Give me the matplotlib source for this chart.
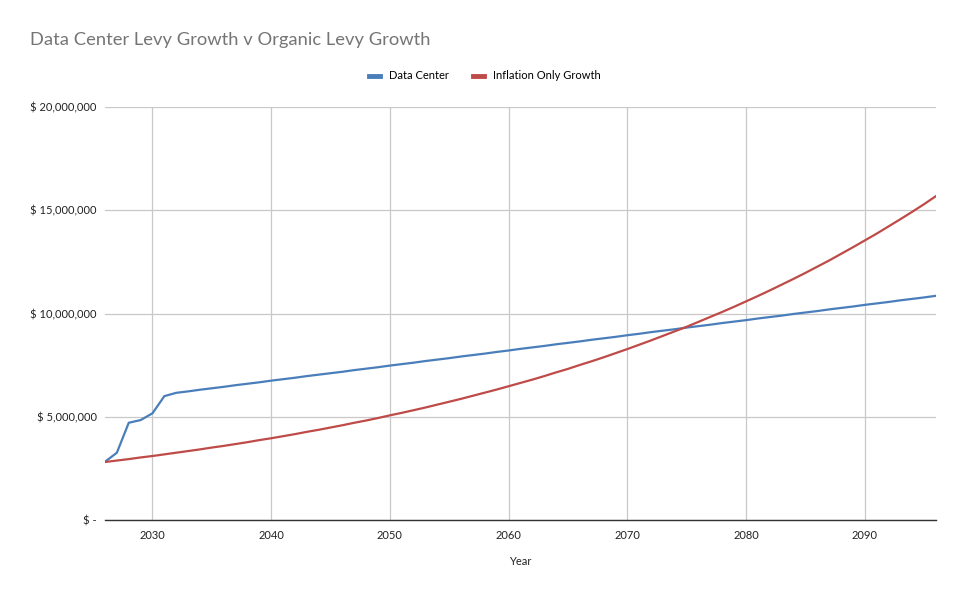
import numpy as np
import matplotlib
matplotlib.use("Agg")
import matplotlib.pyplot as plt
from matplotlib.ticker import FuncFormatter

plt.rcParams['font.family'] = ['Lato', 'DejaVu Sans']

years = list(range(2026, 2097))

# Data Center levy, millions of dollars
data_center = [
    2.82, 3.26, 4.71, 4.84, 5.17, 6.00, 6.16, 6.23, 6.31, 6.38,
    6.45, 6.53, 6.60, 6.67, 6.75, 6.82, 6.89, 6.97, 7.04, 7.11,
    7.18, 7.26, 7.33, 7.40, 7.48, 7.55, 7.62, 7.70, 7.77, 7.84,
    7.92, 7.99, 8.06, 8.14, 8.21, 8.29, 8.36, 8.43, 8.51, 8.58,
    8.65, 8.73, 8.80, 8.87, 8.95, 9.02, 9.10, 9.17, 9.24, 9.32,
    9.39, 9.46, 9.54, 9.61, 9.68, 9.76, 9.83, 9.90, 9.98, 10.05,
    10.12, 10.20, 10.27, 10.34, 10.42, 10.49, 10.56, 10.64, 10.71, 10.78,
    10.86,
]

# Inflation only growth, millions of dollars
inflation_only = [
    2.81, 2.88, 2.95, 3.03, 3.10, 3.18, 3.26, 3.34, 3.42, 3.51,
    3.59, 3.68, 3.77, 3.87, 3.96, 4.06, 4.16, 4.27, 4.37, 4.48,
    4.59, 4.71, 4.82, 4.94, 5.07, 5.19, 5.32, 5.45, 5.59, 5.73,
    5.87, 6.02, 6.17, 6.32, 6.48, 6.64, 6.80, 6.97, 7.15, 7.32,
    7.51, 7.69, 7.88, 8.08, 8.28, 8.49, 8.70, 8.92, 9.14, 9.36,
    9.60, 9.84, 10.08, 10.33, 10.59, 10.85, 11.12, 11.40, 11.68, 11.97,
    12.27, 12.57, 12.89, 13.21, 13.54, 13.87, 14.22, 14.57, 14.93, 15.30,
    15.69,
]

yticks = [0, 5e6, 10e6, 15e6, 20e6]
xticks = [2030, 2040, 2050, 2060, 2070, 2080, 2090]

fig = plt.figure(figsize=(9.66, 5.98), dpi=100)
ax = fig.add_axes([0.1087, 0.1304, 0.8603, 0.6906])

ax.plot(years, np.array(data_center) * 1e6, color='#4A7EBB', lw=1.6, label='Data Center')
ax.plot(years, np.array(inflation_only) * 1e6, color='#BE4B48', lw=1.6, label='Inflation Only Growth')

ax.set_xlim(2026, 2096)
ax.set_ylim(0, 20e6)
ax.set_xticks(xticks)
ax.set_yticks(yticks)

def money(v, pos):
    if v == 0:
        return '$ -'
    return '$ {:,.0f}'.format(v)

ax.yaxis.set_major_formatter(FuncFormatter(money))
ax.grid(True, color='#C8C8C8', lw=0.9)
ax.set_axisbelow(True)
for s in ['top', 'right', 'left']:
    ax.spines[s].set_visible(False)
ax.spines['bottom'].set_color('#333333')
ax.spines['bottom'].set_linewidth(1.0)
ax.tick_params(axis='both', length=0, labelsize=8, colors='#222222', pad=6)
ax.tick_params(axis='x', pad=7)

ax.set_xlabel('Year', fontsize=8, color='#222222', labelpad=11)

fig.text(0.031, 0.933, 'Data Center Levy Growth v Organic Levy Growth',
         fontsize=13.2, color='#757575', va='center', ha='left')

leg = fig.legend(loc='center', bbox_to_anchor=(0.502, 0.873), ncol=2, frameon=False,
                 fontsize=8, handlelength=1.0, handletextpad=0.8, columnspacing=2.2)
for line in leg.get_lines():
    line.set_linewidth(3.5)

fig.savefig('out.png', dpi=100)
